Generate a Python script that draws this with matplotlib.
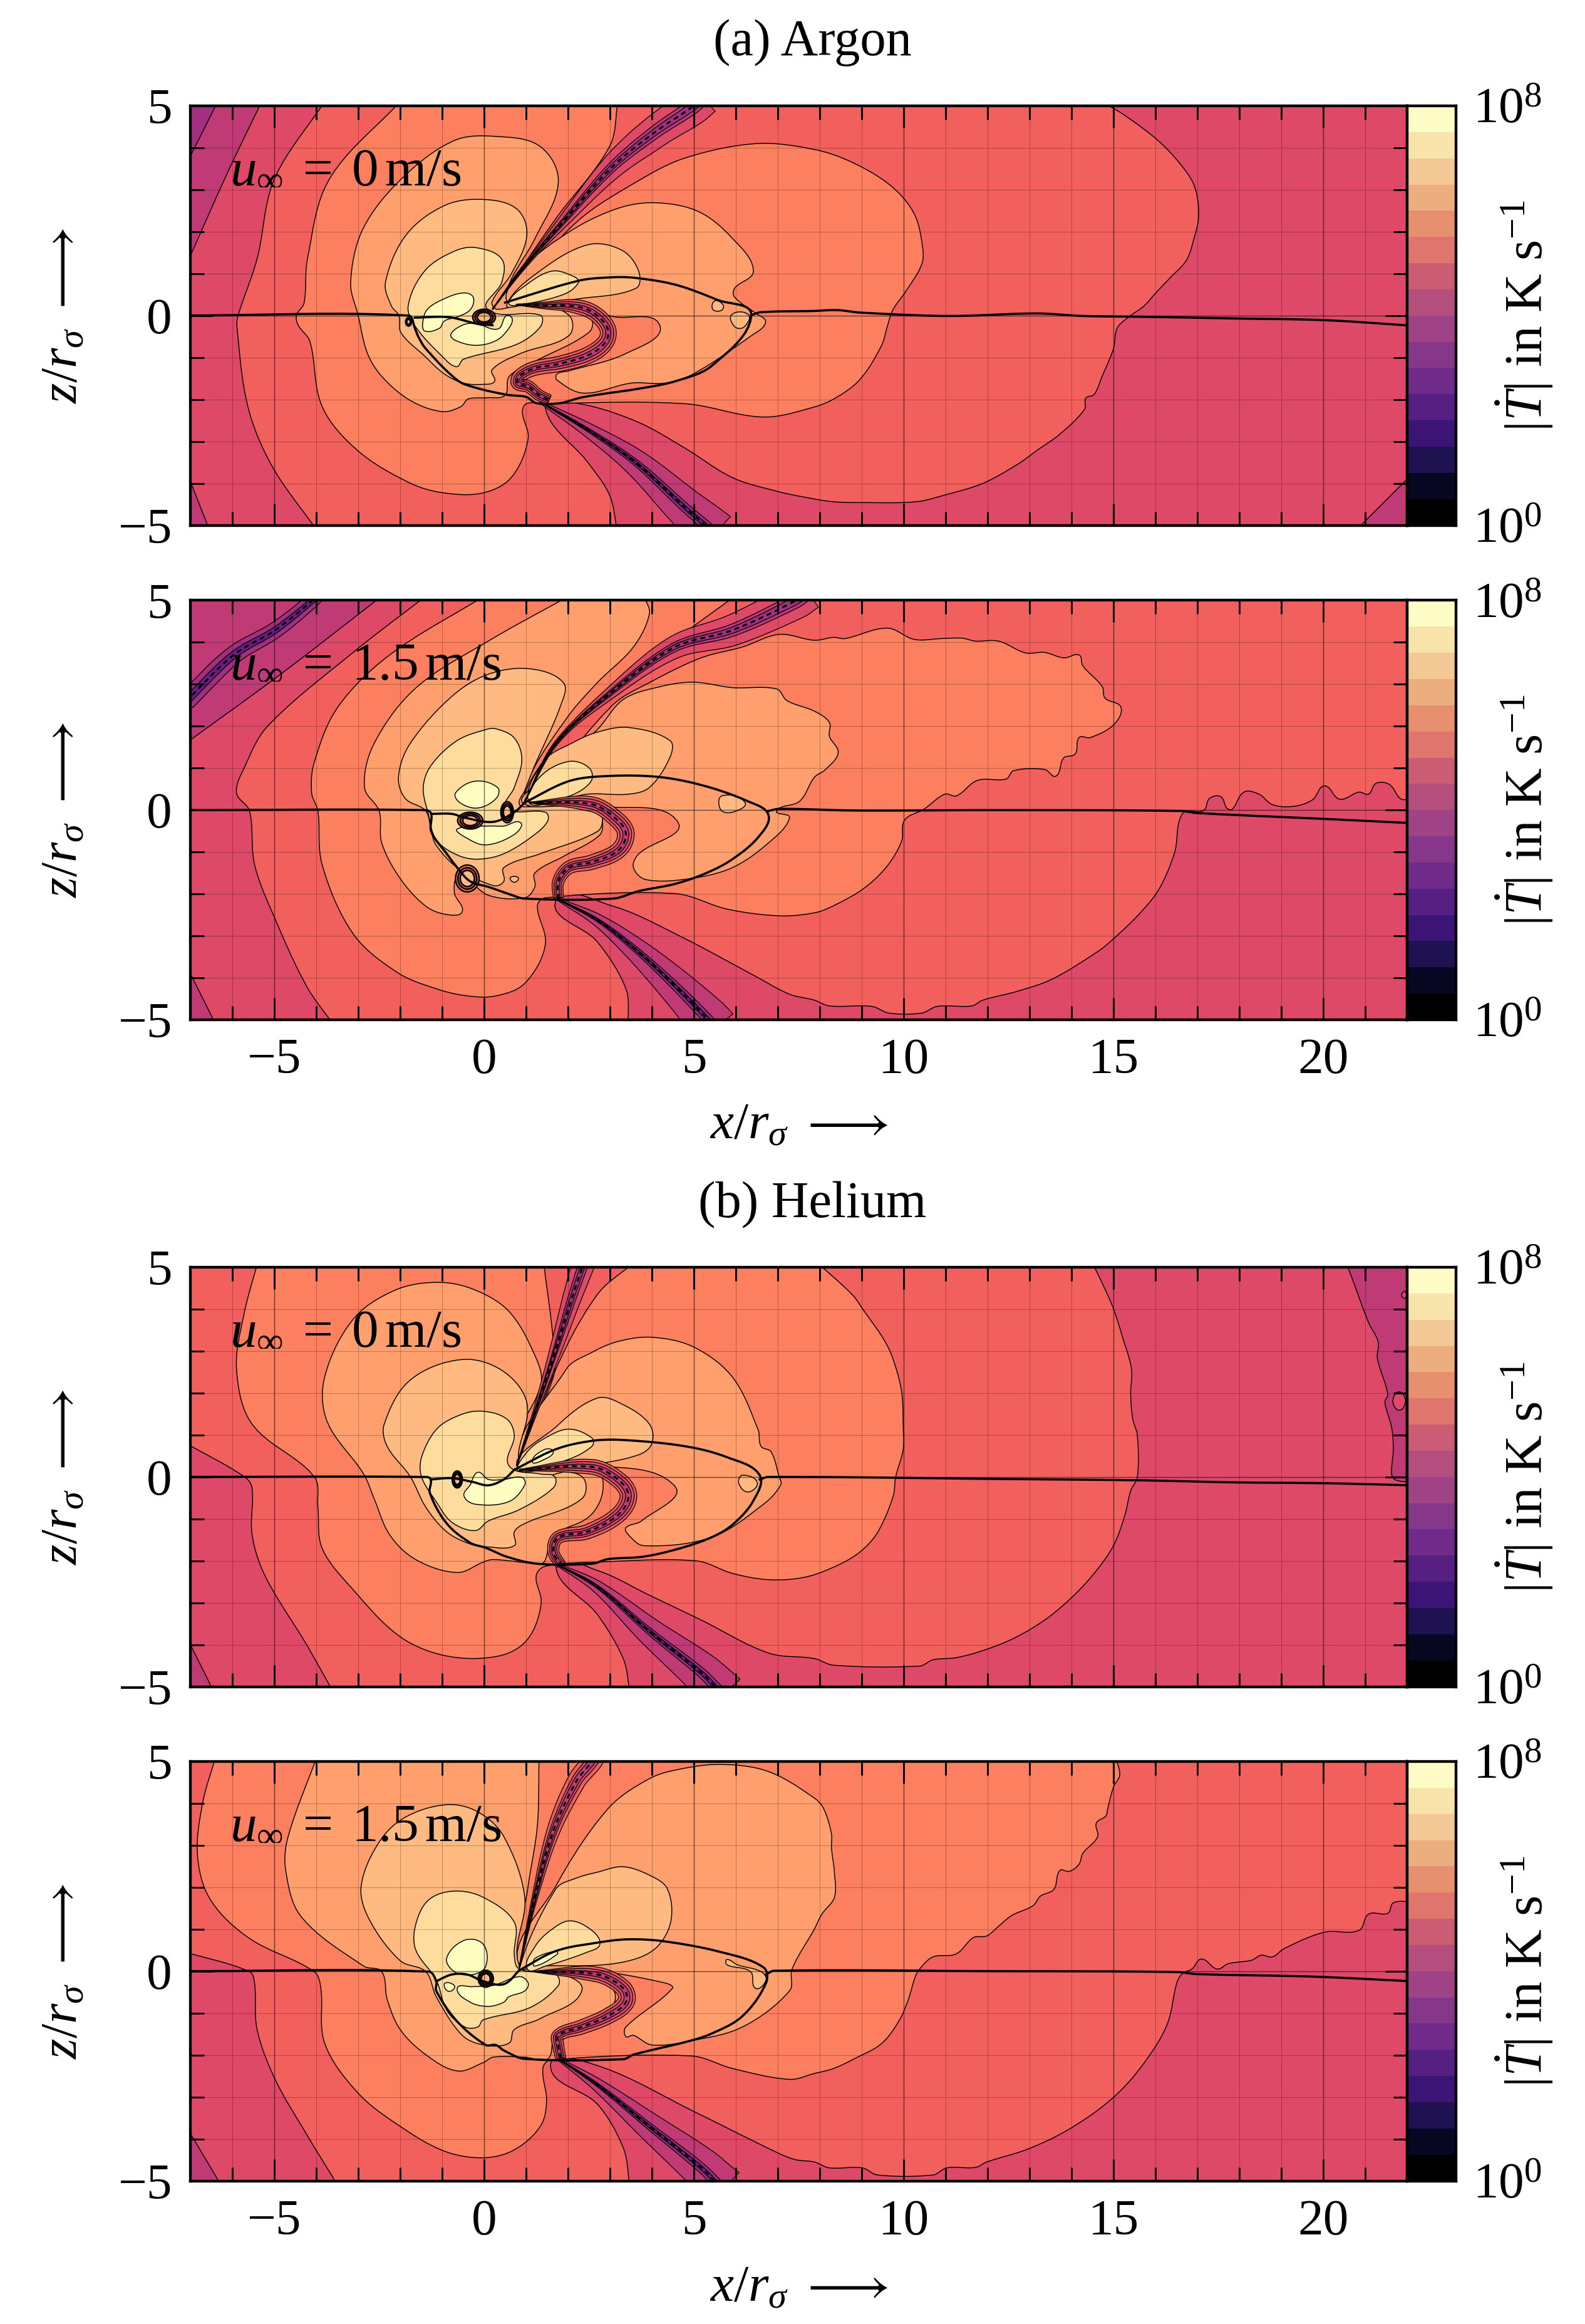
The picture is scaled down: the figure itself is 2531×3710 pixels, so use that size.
import numpy as np
import matplotlib
matplotlib.use('Agg')
import matplotlib.pyplot as plt
from matplotlib.patches import Ellipse
from matplotlib.ticker import MultipleLocator

plt.rcParams['font.family'] = ['Liberation Serif', 'DejaVu Serif']
plt.rcParams['mathtext.fontset'] = 'custom'
plt.rcParams['mathtext.rm'] = 'Liberation Serif'
plt.rcParams['mathtext.it'] = 'Liberation Serif:italic'
plt.rcParams['mathtext.fallback'] = 'stix'

# level index -> colour of the filled band, 0 darkest, 15 lightest
level_colors = ['#000004', '#0B0924', '#1D1147', '#36106B', '#51127C', '#6A1C81', '#85267F', '#A3307E',
                '#C03A76', '#DE4968', '#F1605D', '#FC8060', '#FE9F6D', '#FEBA80', '#FDDC9E', '#FCFDBF']
cbar_colors = ['#000000', '#070722', '#1E1250', '#3B1476', '#552082', '#6F2A8A', '#87378A', '#A04286',
               '#B44E7E', '#CC5C73', '#DF756C', '#E79070', '#EDAE7F', '#F3C894', '#F8E3AA', '#FDFBC6']
cbar_exponents = np.linspace(0, 8, 17)

x_limits = (-7, 22)
z_limits = (-5, 5)
panel_speed = ['0', '1.5', '0', '1.5']

# contour regions: (level, [(x, z), ...]) in x/r_sigma, z/r_sigma
ar0_regions = [
    (8, [(-5.3, 5.1), (-6.09, 3.46), (-7.1, 1.2), (-7.1, 5.1)]),
    (7, [(-6.35, 5.1), (-7.1, 3.6), (-7.1, 5.1)]),
    (8, [(-7.1, -3.7), (-6.55, -5.1), (-7.1, -5.1)]),
    (8, [(20.8, -5.1), (22.1, -3.8), (22.1, -5.1)]),
    (10, [(-3.8, 5.1), (-5.0, 3.25), (-5.41, 1.35), (-5.86, 0.01), (-5.89, -0.27), (-5.63, -2.17), (-5.06, -3.58),
          (-4.0, -5.1), (3.17, -5.1), (2.99, -4.28), (2.48, -3.51), (1.45, -2.17), (2.25, -2.1), (3.62, -2.52),
          (4.77, -3.15), (5.91, -3.86), (6.94, -4.18), (7.74, -4.35), (8.33, -4.44), (9.06, -4.46), (10.29, -4.44),
          (10.98, -4.28), (11.89, -4.0), (12.71, -3.55), (13.17, -3.22), (13.72, -2.83), (14.31, -2.24), (14.34, -1.97),
          (14.54, -1.88), (14.73, -1.45), (15, -0.79), (15.09, -0.3), (15.37, -0.03), (15.73, 0.23), (16, 0.53),
          (16.37, 0.92), (16.74, 1.32), (16.92, 1.84), (17.03, 2.37), (16.95, 3.03), (16.69, 3.49), (16.1, 4.14),
          (15.23, 4.8), (14.7, 5.1)]),
    (11, [(-2, 5.1), (-3.69, 3.25), (-4.21, 1.35), (-4.29, 0.3), (-4.47, 0.01), (-4.43, -0.23), (-4.15, -0.62),
          (-3.86, -2.17), (-3.0, -3.23), (-1.75, -4.0), (-0.95, -4.23), (-0.03, -4.23), (0.65, -3.86), (1.05, -2.94),
          (0.94, -2.17), (1.45, -2.1), (4.77, -2.1), (6.65, -2.42), (7.87, -2.18), (8.42, -1.94), (8.97, -1.51),
          (9.47, -0.72), (9.61, -0.26), (9.74, 0.13), (10.06, 0.59), (10.43, 1.22), (10.45, 1.64), (10.25, 2.43),
          (9.7, 3.09), (8.78, 3.65), (7.87, 3.96), (6.48, 4.1), (4.77, 3.75), (3.62, 3.18), (2.25, 2.27), (1.0, 0.9),
          (0.55, 0.35), (0.42, 0.37), (1.68, 2.27), (2.99, 4.03), (3.19, 5.1)]),
    (12, [(0.31, 4.27), (-0.72, 4.17), (-1.98, 3.25), (-2.89, 2.06), (-3.18, 0.79), (-3.0, 0), (-2.78, -0.9),
          (-2.43, -1.46), (-1.75, -2.03), (-1.0, -2.29), (-0.55, -2.17), (-0.38, -1.99), (0.08, -1.96), (0.5, -1.9),
          (0.6, -1.45), (1.2, -1.1), (2.5, -0.4), (2.54, -0.05), (1.9, 0.2), (0.8, 0.3), (0.54, 0.58), (1.22, 1.85),
          (1.77, 3.18), (1.34, 4.03)]),
    (12, [(0.6, 0.3), (0.88, 1.07), (2.02, 1.99), (3.17, 2.55), (4.08, 2.69), (5.11, 2.48), (5.91, 1.85), (6.42, 1.07),
          (5.97, 0.65), (5.97, 0.44), (6.48, 0.05), (6.71, -0.16), (6.37, -0.48), (4.99, -1.39), (4.31, -1.61),
          (3.51, -1.61), (2.37, -1.85), (1.74, -1.54), (1.74, -1.39), (2.02, -1.32), (3.39, -0.9), (4.19, -0.23),
          (3.05, -0.02), (2.3, 0.25)]),
    (13, [(-0.06, 2.77), (0.77, 2.55), (1.02, 1.92), (0.65, 1.0), (0.19, 0.33), (0.31, 0.15), (1.11, 0.3), (2.02, 0.01),
          (2.02, -0.48), (0.88, -0.9), (0.19, -1.29), (0.25, -1.57), (-0.03, -1.64), (-0.49, -1.61), (-0.95, -1.39),
          (-1.41, -0.97), (-1.98, -0.41), (-2.03, 0), (-2.21, 0.23), (-2.35, 0.79), (-1.86, 1.92), (-0.95, 2.62)]),
    (13, [(2.48, 1.69), (3.28, 1.56), (3.68, 1.07), (3.62, 0.65), (2.25, 0.4), (0.99, 0.26), (0.54, 0.26), (1.34, 1.07)]),
    (13, [(5.5, 0.35), (5.7, 0.25), (5.65, 0.12), (5.45, 0.15)]),
    (13, [(5.9, 0.02), (6.3, 0.02), (6.2, -0.27), (5.98, -0.27)]),
    (14, [(-0.2, 1.62), (0.42, 1.35), (0.42, 0.79), (0.08, 0.15), (1.34, 0.01), (1.34, -0.27), (0.77, -0.69),
          (-0.49, -1.04), (-0.66, -1.22), (-1.0, -0.97), (-1.63, -0.27), (-1.81, 0.23), (-1.41, 1.07), (-0.72, 1.53)]),
    (14, [(1.62, 1.06), (2.14, 0.93), (2.25, 0.79), (1.91, 0.51), (0.88, 0.26), (0.59, 0.3), (0.99, 0.72)]),
    (15, [(-0.49, 0.54), (-0.26, 0.44), (-0.32, 0.15), (-0.61, -0.02), (-0.95, -0.13), (-1.06, -0.3), (-1.41, -0.37),
          (-1.46, -0.16), (-1.35, 0.15), (-0.95, 0.4)]),
    (15, [(-0.79, -0.44), (-0.49, -0.22), (-0.19, -0.19), (0.33, -0.32), (0.53, 0.0), (0.67, -0.07), (0.6, -0.29),
          (0.3, -0.59), (-0.19, -0.71), (-0.69, -0.59)]),
]
ar0_jet_up = [(0.2, 0.15), (0.88, 1.07), (1.91, 2.27), (3.05, 3.54), (4.08, 4.38), (4.94, 4.96), (5.2, 5.2)]
ar0_jet_down = [(1.34, -2.06), (2.48, -2.73), (3.62, -3.51), (4.77, -4.56), (5.28, -5.0), (5.5, -5.2)]
ar0_jet_s = [(0.77, 0.26), (1.45, 0.24), (2.1, 0.23), (2.59, 0.08), (2.94, -0.3), (2.89, -0.64), (2.49, -0.94), (1.85, -1.14),
             (1.2, -1.26), (0.85, -1.44), (0.8, -1.61), (1.05, -1.69), (1.3, -1.89), (1.55, -2.01)]
ar0_jet_extra = []
ar0_rings = [(0.0, -0.04, 0.27, 0.19), (-1.8, -0.15, 0.07, 0.1)]
ar0_fronts = [
    [(-7.1, 0), (-1.8, 0), (-1.65, -0.3), (-1.58, -0.48), (-1.39, -0.79), (-0.64, -1.54), (-0.24, -1.71), (0.55, -1.89),
     (1.0, -1.94), (1.25, -2.09), (1.8, -2.09), (2.29, -1.96), (2.89, -1.86), (3.59, -1.76), (4.58, -1.56), (5.45, -1.18),
     (6.37, 0.01), (5.57, 0.37), (4.58, 0.73), (3.59, 0.9), (3, 0.91), (2.25, 0.83), (0.5, 0.31)],
    [(-1.65, -0.05), (-0.84, -0.04), (-0.15, -0.2), (0.2, -0.23)],
    [(6.37, 0.01), (6.6, 0.08), (7.87, 0.11), (8.42, 0.13), (8.97, 0.07), (11.07, -0.01), (13.17, 0.05), (14.27, -0.01),
     (15.73, -0.03), (17.92, -0.07), (20.03, -0.11), (22.1, -0.24)],
]

ar1_regions = [
    (8, [(-7.1, 1.6), (-4.85, 3.24), (-2.44, 5.1), (-7.1, 5.1)]),
    (8, [(-7.1, -3.7), (-6.4, -5.1), (-7.1, -5.1)]),
    (10, [(-1.39, 5.1), (-3.12, 3.76), (-5.16, 2.0), (-5.72, 1.0), (-5.9, 0.41), (-5.59, -0.02), (-5.47, -1.3),
          (-4.97, -2.62), (-4.23, -4.2), (-3.6, -5.1), (3.44, -5.1), (3.38, -4.26), (2.7, -3.14), (1.71, -2.16),
          (3.07, -2.29), (4.68, -3.01), (6.41, -3.93), (7.28, -4.39), (7.87, -4.53), (8.23, -4.67), (9.24, -4.68),
          (9.65, -4.84), (10.43, -4.84), (10.8, -4.68), (11.62, -4.67), (11.89, -4.53), (12.71, -4.32), (13.54, -4.03),
          (14.63, -3.37), (15, -3.07), (15.64, -2.45), (16.1, -1.86), (16.46, -1.0), (16.65, -0.08), (17.15, -0.01),
          (17.29, 0.28), (17.56, 0.32), (17.7, 0.05), (17.83, 0.02), (18.11, 0.43), (18.47, 0.38), (18.79, 0.13),
          (19.3, 0.09), (19.75, 0.25), (20.03, 0.58), (20.39, 0.26), (20.85, 0.43), (21.08, 0.38), (21.26, 0.64),
          (21.58, 0.61), (21.86, 0.26), (22.1, 0.3), (22.1, 5.1)]),
    (11, [(0, 5.1), (-2.25, 3.7), (-3.49, 2.45), (-4.05, 1.13), (-4.11, 0.41), (-3.96, -0.02), (-3.86, -1.3), (-3.12, -2.95),
          (-2.07, -3.87), (-1.14, -4.26), (-0.4, -4.43), (0.28, -4.43), (0.97, -4.13), (1.46, -3.21), (1.27, -2.29),
          (1.46, -2.09), (4.55, -1.99), (5.79, -2.36), (7.03, -2.52), (7.87, -2.45), (8.33, -2.28), (9.06, -1.86),
          (9.61, -1.33), (9.95, -0.74), (10.02, -0.24), (10.48, 0.02), (10.98, 0.38), (11.26, 0.34), (11.76, 0.71),
          (12.44, 0.74), (12.62, 0.94), (13.36, 0.97), (13.63, 0.81), (13.81, 1.24), (14.09, 1.34), (14.18, 1.73),
          (14.45, 1.73), (15, 2.03), (15.18, 2.45), (14.8, 2.67), (14.73, 2.95), (14.27, 3.44), (14.18, 3.7), (13.82, 3.63),
          (13.36, 3.76), (12.9, 3.75), (12.26, 4.03), (11.71, 4.03), (11.39, 4.1), (10.89, 4.09), (10.25, 4.07), (9.61, 4.34),
          (8.6, 4.09), (8.33, 4.12), (7.87, 4.05), (7.03, 4.19), (6.16, 3.89), (5.17, 3.63), (3.94, 3.04), (3.07, 2.51),
          (0.97, 0.14), (1.09, 0.67), (1.96, 1.86), (3.07, 2.97), (4.31, 3.89), (5.98, 5.1)]),
    (12, [(2.02, 5.1), (0.1, 4.03), (-1.63, 2.91), (-2.62, 1.59), (-2.85, 0.54), (-2.5, -0.02), (-2.44, -0.78), (-2, -1.63),
          (-1.39, -2.29), (-0.89, -2.49), (-0.52, -2.42), (-0.71, -1.96), (-0.58, -1.57), (0.1, -2.03), (0.97, -2.09),
          (1.21, -1.83), (1.21, -1.5), (1.9, -1.1), (2.75, -0.6), (2.82, -0.25), (2.7, 0.08), (1.09, 0.08), (1.03, 0.67),
          (1.96, 2.18), (2.7, 3.04), (3.56, 3.89), (3.94, 4.68), (3.81, 5.1)]),
    (12, [(0.95, 0.15), (1.46, 0.8), (2.7, 1.92), (3.32, 2.64), (4.18, 2.94), (4.99, 3.05), (5.92, 2.92), (6.97, 2.89),
          (7.22, 2.61), (7.87, 2.36), (8.23, 2.09), (8.23, 1.76), (8.44, 1.37), (8.14, 0.97), (7.87, 0.78), (7.52, 0.21),
          (6.97, -0.02), (7.28, -0.18), (6.78, -0.78), (5.92, -1.37), (4.93, -1.63), (3.87, -1.66), (3.56, -1.37),
          (3.69, -1.04), (4.62, -0.28), (2.95, 0.08)]),
    (13, [(1.09, 3.37), (1.89, 3.04), (1.83, 2.51), (1.21, 1.07), (0.97, 0.47), (0.84, 0.14), (1.09, 0.08), (2.64, 0.08),
          (2.82, -0.18), (2.7, -0.51), (1.34, -1.04), (0.47, -1.37), (0.47, -1.7), (0.22, -1.8), (-0.64, -1.37),
          (-1.14, -0.84), (-1.26, -0.51), (-1.39, -0.02), (-1.88, 0.28), (-2.04, 0.8), (-1.76, 1.59), (-0.77, 2.71), (0.1, 3.24)]),
    (13, [(3.44, 1.97), (4.43, 1.66), (4.43, 1.26), (3.94, 0.54), (3.44, 0.38), (2.45, 0.38), (1.71, 0.21), (1.06, 0.21),
          (1.46, 1.2), (2.08, 1.59), (2.7, 1.86)]),
    (13, [(5.67, 0.34), (6.22, 0.18), (5.92, -0.05), (5.64, 0.01)]),
    (13, [(0.72, -1.58), (0.82, -1.63), (0.72, -1.72), (0.62, -1.63)]),
    (14, [(0.28, 1.94), (0.72, 1.72), (0.9, 1.2), (0.72, 0.54), (0.53, 0.05), (1.46, -0.05), (1.52, -0.25), (1.21, -0.58),
          (0.47, -1.04), (-0.15, -1.17), (-0.64, -1.07), (-1.14, -0.71), (-1.32, -0.12), (-1.45, 0.54), (-1.26, 1.07),
          (-0.64, 1.66), (0.04, 1.92)]),
    (14, [(2.02, 1.16), (2.51, 1.0), (2.54, 0.67), (1.96, 0.31), (1.09, 0.21), (1.34, 0.8)]),
    (15, [(-0.21, 0.69), (0.32, 0.54), (0.29, 0.28), (-0.15, 0.05), (-0.58, 0.18), (-0.68, 0.41)]),
    (15, [(0.87, -0.3), (0.72, -0.58), (0.04, -0.83), (-0.46, -0.64), (-0.64, -0.45), (0.1, -0.38), (0.47, -0.38)]),
]
ar1_jet_up = [(0.97, 0.21), (1.71, 1.59), (3.07, 2.84), (4.55, 3.89), (5.92, 4.29), (7.4, 4.98), (7.7, 5.2)]
ar1_jet_down = [(1.77, -2.13), (2.7, -2.62), (3.56, -3.28), (4.43, -4.07), (5.3, -4.95), (5.5, -5.2)]
ar1_jet_s = [(1.09, 0.18), (2.57, 0.14), (3.19, -0.25), (3.38, -0.58), (3.19, -0.97), (2.57, -1.24), (2.02, -1.37),
             (1.77, -1.7), (1.77, -2.09)]
ar1_jet_extra = [(-7.1, 2.6), (-5.97, 3.7), (-4.98, 4.29), (-4.11, 4.98), (-3.9, 5.2)]
ar1_rings = [(-0.33, -0.25, 0.3, 0.2), (0.55, -0.05, 0.15, 0.25), (-0.4, -1.63, 0.28, 0.32)]
ar1_fronts = [
    [(-7.1, 0), (-1.39, 0), (-1.26, -0.09), (-1.26, -0.51), (-0.89, -1.04), (-0.64, -1.37), (-0.33, -1.7), (0.1, -1.83),
     (0.59, -2.0), (0.97, -2.11), (3.07, -2.11), (3.69, -1.93), (4.55, -1.76), (5.3, -1.5), (5.92, -1.17), (6.54, -0.64),
     (6.78, -0.12), (6.29, 0.21), (5.17, 0.6), (4.06, 0.8), (2.7, 0.8), (1.96, 0.67), (0.97, 0.18)],
    [(-1.26, -0.09), (-0.77, -0.09), (-0.46, -0.18), (0.22, -0.28), (0.72, -0.05), (0.97, 0.18)],
    [(6.78, -0.02), (7.03, 0.03), (8.89, -0.01), (12.2, 0), (16.6, -0.02), (17.0, -0.07), (20.03, -0.21), (22.1, -0.31)],
]

he0_regions = [
    (8, [(-7.1, -3.8), (-6.45, -5.1), (-7.1, -5.1)]),
    (8, [(20.55, 5.1), (20.76, 4.54), (21.08, 3.68), (21.31, 3.22), (21.29, 2.83), (21.54, 1.97), (21.47, 1.78), (21.63, 1.18),
         (21.67, 0.66), (21.63, 0.07), (21.72, -0.07), (22.1, -0.13), (22.1, 5.1)]),
    (9, [(21.81, 2.03), (21.96, 1.81), (21.81, 1.59), (21.66, 1.81)]),
    (9, [(21.93, 4.42), (21.99, 4.34), (21.93, 4.26), (21.87, 4.34)]),
    (10, [(-7.1, 0.8), (-5.72, 0.01), (-5.53, -0.26), (-5.53, -1.37), (-5.22, -2.36), (-4.23, -4.0), (-3.61, -5.1),
          (3.47, -5.1), (3.32, -4.34), (2.7, -3.28), (1.71, -2.1), (2.7, -2.23), (3.94, -2.82), (5.17, -3.41), (6.78, -4.2),
          (7.87, -4.33), (8.33, -4.49), (10.38, -4.51), (10.7, -4.36), (11.25, -4.31), (11.89, -4.14), (12.62, -3.85),
          (13.35, -3.42), (13.99, -2.89), (14.54, -2.3), (15, -1.64), (15.27, -0.92), (15.41, -0.33), (15.57, 0), (15.57, 0.99),
          (15.46, 1.38), (15.41, 1.97), (15.43, 2.57), (15.23, 3.29), (15, 4.01), (14.77, 4.54), (14.5, 5.1), (-7.1, 5.1)]),
    (11, [(-5.4, 5.1), (-5.72, 3.89), (-5.9, 2.57), (-5.53, 1.26), (-4.05, 0.01), (-3.96, -0.72), (-3.86, -1.7), (-3.12, -2.69),
          (-2.0, -3.81), (-0.89, -4.27), (0.35, -4.27), (1.03, -3.88), (1.36, -3.02), (1.24, -2.36), (1.46, -2.13), (2.7, -2.03),
          (5.05, -2.0), (5.92, -2.3), (6.78, -2.45), (7.65, -2.39), (8.42, -2.11), (8.97, -1.78), (9.38, -1.32), (9.75, -0.46),
          (9.81, 0), (9.99, 0.66), (9.99, 1.18), (9.95, 2.04), (9.74, 2.83), (9.52, 3.29), (9.06, 3.95), (8.78, 4.34), (7.95, 5.1),
          (3.56, 5.1), (2.7, 4.35), (1.71, 2.57), (0.84, 0.2), (0.72, 0.2), (1.65, 2.38), (1.65, 3.23), (1.42, 5.1)]),
    (12, [(-1.14, 4.64), (-0.27, 4.48), (0.59, 3.95), (1.21, 2.9), (1.36, 2.24), (0.72, 0.2), (2.7, 0.1), (2.82, -0.39), (2.5, -0.95),
          (1.65, -1.41), (1.45, -2.0), (1.34, -2.07), (0.22, -1.97), (-0.02, -2.03), (-0.64, -2.28), (-1.63, -1.97), (-2.25, -1.38),
          (-2.62, -0.52), (-2.87, 0.07), (-3.74, 1.32), (-3.8, 2.38), (-3.12, 3.76), (-2.13, 4.45)]),
    (12, [(4.0, 3.33), (4.99, 3.1), (5.92, 2.38), (6.53, 1.13), (6.6, 0.73), (6.84, 0.6), (7.03, 0.01), (7.07, -0.19), (6.66, -0.65),
          (5.42, -1.44), (3.81, -1.64), (3.44, -1.38), (3.38, -1.21), (3.75, -1.05), (4.55, -0.22), (2.57, 0.27), (0.84, 0.2),
          (1.96, 2.57), (2.57, 2.97), (3.19, 3.23)]),
    (13, [(-0.52, 2.8), (0.47, 2.51), (1.03, 1.72), (0.84, 0.27), (1.46, 0.14), (2.33, 0.01), (2.33, -0.52), (0.97, -1.11),
          (0.72, -1.31), (0.72, -1.64), (0.1, -1.67), (-0.33, -1.6), (-0.89, -1.31), (-1.39, -0.72), (-1.76, 0.01), (-2.31, 0.73),
          (-2.38, 1.26), (-1.76, 2.31)]),
    (13, [(2.7, 1.88), (3.32, 1.72), (3.94, 1.26), (4.0, 0.8), (3.69, 0.53), (2.57, 0.3), (0.84, 0.17), (1.71, 1.19)]),
    (13, [(6.16, 0.04), (6.51, -0.13), (6.29, -0.36), (6.07, -0.15)]),
    (14, [(-0.09, 1.57), (0.53, 1.39), (0.72, 0.99), (0.59, 0.27), (1.34, 0.07), (1.68, 0.01), (1.65, -0.26), (0.84, -0.78),
          (0.1, -1.05), (-0.21, -1.28), (-0.77, -1.08), (-1.14, -0.59), (-1.49, 0), (-1.49, 0.47), (-1.14, 1.13), (-0.64, 1.45)]),
    (14, [(2.02, 1.14), (2.57, 0.93), (2.57, 0.73), (1.96, 0.4), (0.84, 0.14), (1.03, 0.6), (1.46, 0.93)]),
    (15, [(0.9, -0.01), (0.97, -0.19), (0.59, -0.59), (-0.21, -0.65), (-0.48, -0.45), (-0.33, -0.19), (-0.15, 0.11), (0.1, -0.06),
          (0.47, -0.06)]),
    (15, [(1.46, 0.66), (1.65, 0.6), (1.46, 0.43), (1.15, 0.37)]),
]
he0_jet_up = [(0.78, 0.27), (1.34, 1.91), (1.77, 3.23), (2.08, 4.22), (2.33, 4.97), (2.4, 5.2)]
he0_jet_down = [(1.77, -2.1), (2.7, -2.62), (3.94, -3.68), (5.17, -4.66), (5.54, -5.03), (5.7, -5.2)]
he0_jet_s = [(0.84, 0.17), (2.57, 0.24), (3.19, -0.06), (3.44, -0.45), (3.19, -0.91), (2.45, -1.31), (1.77, -1.44),
             (1.65, -1.77), (1.83, -2.1)]
he0_jet_extra = []
he0_rings = [(-0.64, -0.06, 0.12, 0.2)]
he0_fronts = [
    [(-7.1, 0), (-1.39, 0), (-1.27, -0.06), (-1.29, -0.39), (-0.89, -1.11), (-0.33, -1.57), (0.04, -1.69), (0.53, -1.9),
     (1.27, -2.07), (2.57, -2.07), (2.95, -1.96), (3.81, -1.9), (4.68, -1.7), (5.42, -1.44), (5.92, -1.14), (6.41, -0.58),
     (6.57, 0.04), (5.79, 0.47), (4.8, 0.73), (3.32, 0.88), (2.57, 0.86), (1.71, 0.66), (0.72, 0.17)],
    [(-1.27, -0.06), (-0.77, -0.03), (-0.27, -0.12), (0.1, -0.2), (0.47, -0.06), (0.72, 0.17)],
    [(6.57, -0.06), (6.78, 0), (12.44, -0.05), (15.55, -0.08), (17.93, -0.13), (20.03, -0.15), (22.1, -0.2)],
]

he1_regions = [
    (8, [(-7.1, -3.7), (-6.27, -5.1), (-7.1, -5.1)]),
    (10, [(-7.1, 0.45), (-5.59, -0.01), (-5.47, -0.28), (-5.41, -1.39), (-4.98, -2.58), (-4.23, -3.89), (-3.49, -5.1),
          (3.47, -5.1), (3.32, -4.22), (2.7, -3.17), (1.58, -2.25), (2.7, -2.25), (5.05, -3.37), (6.91, -4.29), (7.4, -4.49),
          (7.87, -4.55), (8.23, -4.69), (9.01, -4.69), (9.38, -4.86), (10.7, -4.86), (11.03, -4.69), (11.71, -4.68), (11.98, -4.55),
          (12.99, -4.23), (13.99, -3.74), (15, -3.01), (15.73, -2.19), (16.28, -1.27), (16.51, -0.28), (16.65, -0.05), (16.87, 0.05),
          (17.1, 0.29), (17.47, 0.05), (17.74, 0.18), (18.29, 0.26), (18.52, 0.38), (18.79, 0.34), (19.07, 0.54), (20.03, 0.93),
          (20.85, 0.97), (21.08, 1.36), (21.54, 1.38), (21.67, 1.63), (22.1, 1.66), (22.1, 5.1), (-7.1, 5.1)]),
    (11, [(-6.4, 5.1), (-6.71, 4.0), (-6.83, 2.75), (-6.52, 1.7), (-5.59, 0.78), (-4.05, -0.01), (-3.89, -0.41), (-3.8, -1.72),
          (-3.0, -2.91), (-2.0, -3.7), (-0.95, -4.29), (-0.02, -4.45), (0.72, -4.26), (1.34, -3.7), (1.49, -3.11), (1.4, -2.32),
          (1.58, -2.12), (4.93, -2.02), (5.92, -2.32), (7.28, -2.58), (7.87, -2.44), (8.33, -2.32), (8.88, -2.06), (9.47, -1.73),
          (9.88, -1.2), (10.11, -0.68), (10.27, -0.15), (10.38, 0.05), (10.7, 0.34), (11.25, 0.41), (11.66, 0.8), (11.98, 0.84),
          (12.26, 1.07), (12.58, 1.33), (13.08, 1.56), (13.26, 1.79), (13.58, 1.95), (13.72, 2.4), (13.95, 2.38), (14.18, 2.55),
          (14.27, 2.81), (14.62, 3.2), (14.59, 3.53), (14.82, 3.7), (14.86, 3.86), (15, 4.39), (15.15, 4.68), (15.05, 5.1)]),
    (12, [(-3.99, 5.1), (-4.67, 3.21), (-4.73, 2.42), (-4.36, 1.3), (-2.87, 0.12), (-2.44, -0.01), (-2.31, -0.67), (-2, -1.39),
          (-1.39, -1.99), (-0.64, -2.38), (-0.02, -2.18), (0.22, -2.05), (0.97, -2.05), (1.52, -2.09), (1.71, -1.53), (2.82, -1.13),
          (3.13, -0.61), (2.82, -0.14), (2.33, 0.02), (0.84, 0.05), (1.03, 1.89), (1.27, 3.47), (1.31, 5.1)]),
    (12, [(5.67, 4.93), (6.78, 4.76), (7.87, 4.13), (8.1, 3.86), (8.28, 3.27), (8.28, 2.94), (8.35, 2.35), (8.35, 1.76), (8.05, 1.36),
          (7.87, 1.0), (7.34, 0.05), (7.28, -0.47), (6.16, -1.33), (4.93, -1.66), (4.0, -1.76), (3.56, -1.53), (3.38, -1.56),
          (3.38, -1.33), (4.49, -0.41), (4.31, -0.28), (2.57, 0.02), (0.84, 0.05), (1.71, 2.03), (2.95, 3.87), (3.94, 4.59), (4.68, 4.82)]),
    (13, [(-0.89, 3.97), (-0.15, 3.8), (0.47, 3.21), (0.97, 1.76), (0.84, 0.12), (1.71, -0.01), (2.33, -0.47), (1.34, -1.13),
          (0.72, -1.39), (0.59, -1.72), (0, -1.76), (-0.52, -1.53), (-1.14, -0.61), (-1.39, -0.01), (-2.0, 0.25), (-2.74, 1.24),
          (-2.93, 2.03), (-2.5, 3.08), (-1.88, 3.67)]),
    (13, [(3.32, 2.49), (4.0, 2.26), (4.37, 1.96), (4.46, 1.24), (4.18, 0.64), (3.69, 0.32), (2.82, 0.15), (1.21, 0.12), (0.84, 0.05),
          (1.71, 1.96), (2.2, 2.22), (2.7, 2.36)]),
    (13, [(5.79, 0.28), (6.04, 0.15), (6.6, -0.01), (6.72, -0.21), (6.47, -0.41), (6.35, -0.01), (5.79, 0.15)]),
    (14, [(-0.71, 1.91), (-0.02, 1.76), (0.72, 1.17), (0.72, 0.38), (0.84, 0.05), (1.71, -0.08), (1.77, -0.34), (1.09, -0.87),
          (-0.02, -1.16), (-0.15, -1.33), (-0.46, -1.33), (-0.89, -0.93), (-1.14, -0.21), (-1.63, 0.51), (-1.63, 1.11), (-1.32, 1.7)]),
    (14, [(2.05, 1.2), (2.57, 0.97), (2.76, 0.64), (2.45, 0.45), (1.46, 0.12), (1.03, 0.05), (1.21, 0.58), (1.58, 0.97)]),
    (15, [(-0.46, 0.74), (-0.02, 0.64), (0.04, 0.12), (-0.27, -0.08), (-0.71, -0.01), (-0.89, 0.32)]),
    (15, [(0.84, -0.13), (1.05, -0.28), (0.97, -0.47), (0.59, -0.61), (0.47, -0.74), (0.1, -0.84), (-0.33, -0.74), (-0.64, -0.41),
          (-0.27, -0.37), (0.22, -0.34)]),
    (15, [(-0.95, -0.31), (-0.82, -0.28), (-0.7, -0.38), (-0.85, -0.48)]),
    (15, [(1.21, 0.3), (1.71, 0.48), (1.75, 0.41), (1.21, 0.12)]),
]
he1_jet_up = [(0.84, 0.09), (1.21, 1.76), (1.65, 3.34), (2.2, 4.53), (2.57, 5.0), (2.7, 5.25)]
he1_jet_down = [(1.77, -2.09), (2.7, -2.71), (3.94, -3.7), (5.17, -4.68), (5.54, -5.05), (5.7, -5.2)]
he1_jet_s = [(1.21, -0.01), (2.7, -0.08), (3.32, -0.41), (3.38, -0.74), (2.95, -1.07), (2.33, -1.33), (1.77, -1.53),
             (1.77, -1.79), (1.83, -2.09)]
he1_jet_extra = []
he1_rings = [(0.04, -0.18, 0.18, 0.2)]
he1_fronts = [
    [(-7.1, 0), (-1.32, -0.01), (-1.14, -0.24), (-1.14, -0.47), (-0.64, -1.2), (0.04, -1.76), (0.28, -1.76), (0.47, -1.89),
     (0.97, -2.09), (3.32, -2.1), (3.56, -1.99), (4.8, -1.69), (5.42, -1.49), (6.16, -1.07), (6.72, -0.28), (6.66, 0.09),
     (5.67, 0.45), (4.31, 0.71), (3.44, 0.76), (2.7, 0.68), (1.71, 0.48), (0.84, 0.02)],
    [(-1.14, -0.24), (-0.77, -0.08), (-0.4, -0.08), (-0.02, -0.24), (0.47, -0.31), (0.84, 0.02)],
    [(6.72, -0.08), (6.91, 0.01), (12.2, 0), (16.5, -0.02), (17.0, -0.07), (19.75, -0.13), (22.1, -0.24)],
]

# half widths of the narrow jets at the fractions of their length in jet_frac
jet_frac = [0, 0.25, 0.5, 0.75, 1]
up_widths = {9: [0.005, 0.06, 0.2, 0.36, 0.45], 8: [0.003, 0.03, 0.08, 0.14, 0.18], 7: [0.002, 0.015, 0.04, 0.07, 0.1]}
he_up_widths = {9: [0.005, 0.05, 0.12, 0.2, 0.28], 8: [0.003, 0.025, 0.05, 0.09, 0.12], 7: [0.002, 0.012, 0.03, 0.045, 0.06]}
he1_up_widths = {10: [0.005, 0.05, 0.12, 0.2, 0.25], 9: [0.004, 0.03, 0.07, 0.11, 0.15], 8: [0.002, 0.015, 0.04, 0.06, 0.08]}
down_widths = {8: [0.03, 0.16, 0.3, 0.43, 0.55], 7: [0.01, 0.04, 0.07, 0.1, 0.12], 5: [0.005, 0.015, 0.03, 0.04, 0.05]}
s_widths = {10: [0.01, 0.17, 0.2, 0.17, 0.12], 9: [0.005, 0.11, 0.14, 0.1, 0.08], 8: [0.002, 0.05, 0.07, 0.05, 0.04]}
extra_widths = {7: [0.22, 0.22, 0.2, 0.18, 0.16], 5: [0.09, 0.09, 0.08, 0.07, 0.06]}
ring_levels = [(1.0, 11), (0.8, 9), (0.6, 13)]

panels = [
    (ar0_regions, ar0_jet_up, ar0_jet_down, ar0_jet_s, ar0_jet_extra, ar0_rings, ar0_fronts, up_widths),
    (ar1_regions, ar1_jet_up, ar1_jet_down, ar1_jet_s, ar1_jet_extra, ar1_rings, ar1_fronts, up_widths),
    (he0_regions, he0_jet_up, he0_jet_down, he0_jet_s, he0_jet_extra, he0_rings, he0_fronts, he_up_widths),
    (he1_regions, he1_jet_up, he1_jet_down, he1_jet_s, he1_jet_extra, he1_rings, he1_fronts, he1_up_widths),
]


def outside(p):
    return p[0] < x_limits[0] or p[0] > x_limits[1] or p[1] < z_limits[0] or p[1] > z_limits[1]


def smooth(points, closed):
    # curve through the read points, straight where a piece runs outside the frame
    p = np.array(points, dtype=float)
    n = len(p)
    if n < 3:
        return p
    out = []
    last = n if closed else n - 1
    for i in range(last):
        a = p[i]
        b = p[(i + 1) % n]
        before = p[(i - 1) % n] if closed or i > 0 else a
        after = p[(i + 2) % n] if closed or i + 2 < n else b
        chord = np.linalg.norm(b - a)
        ta = b - before
        tb = after - a
        ta = ta / max(np.linalg.norm(ta), 1e-9) * chord
        tb = tb / max(np.linalg.norm(tb), 1e-9) * chord
        if outside(a):
            ta = b - a
        if outside(b):
            tb = b - a
        for t in np.linspace(0, 1, 10, endpoint=False):
            h00 = 2 * t**3 - 3 * t**2 + 1
            h10 = t**3 - 2 * t**2 + t
            h01 = -2 * t**3 + 3 * t**2
            h11 = t**3 - t**2
            out.append(h00 * a + h10 * ta + h01 * b + h11 * tb)
    if not closed:
        out.append(p[-1])
    return np.array(out)


def draw_jet(ax, center, widths):
    line = smooth(center, False)
    seg = np.hypot(*np.diff(line, axis=0).T)
    s = np.r_[0, np.cumsum(seg)] / seg.sum()
    tang = np.gradient(line, axis=0)
    tang = tang / np.maximum(np.hypot(*tang.T), 1e-9)[:, None]
    normal = np.c_[-tang[:, 1], tang[:, 0]]
    for level in sorted(widths, reverse=True):
        w = np.interp(s, jet_frac, widths[level])[:, None]
        shape = np.r_[line + normal * w, (line - normal * w)[::-1]]
        ax.fill(shape[:, 0], shape[:, 1], facecolor=level_colors[level], edgecolor='k', lw=0.3, zorder=1.5)
    ax.plot(line[:, 0], line[:, 1], color='k', lw=0.75, dashes=(2.5, 2.0), zorder=1.6)


def draw_panel(ax, regions, jet_up, jet_down, jet_s, jet_extra, rings, fronts, up):
    ax.set_facecolor(level_colors[9])
    for level, points in regions:
        shape = smooth(points, True)
        ax.fill(shape[:, 0], shape[:, 1], facecolor=level_colors[level], edgecolor='k', lw=0.35, zorder=1)
    draw_jet(ax, jet_up, up)
    draw_jet(ax, jet_down, down_widths)
    draw_jet(ax, jet_s, s_widths)
    if jet_extra:
        draw_jet(ax, jet_extra, extra_widths)
    for x, z, rx, rz in rings:
        for scale, level in ring_levels:
            ax.add_patch(Ellipse((x, z), 2 * rx * scale, 2 * rz * scale, facecolor=level_colors[level],
                                 edgecolor='k', lw=0.6, zorder=1.7))
    for front in fronts:
        line = smooth(front, False)
        ax.plot(line[:, 0], line[:, 1], color='k', lw=0.85, zorder=1.8)
    ax.set_xlim(x_limits)
    ax.set_ylim(z_limits)
    ax.xaxis.set_major_locator(MultipleLocator(5))
    ax.xaxis.set_minor_locator(MultipleLocator(1))
    ax.yaxis.set_major_locator(MultipleLocator(5))
    ax.yaxis.set_minor_locator(MultipleLocator(1))
    ax.grid(which='major', color='k', alpha=0.55, lw=0.35)
    ax.grid(which='minor', color='k', alpha=0.25, lw=0.25)
    ax.set_axisbelow(False)
    ax.tick_params(which='major', direction='in', top=True, right=True, length=8.4, width=0.7, labelsize=19.5, pad=7)
    ax.tick_params(which='minor', direction='in', top=True, right=True, length=5.3, width=0.7)
    for spine in ax.spines.values():
        spine.set_linewidth(1.05)


W, H = 2531, 3710
fig = plt.figure(figsize=(W / 300, H / 300), dpi=300)
tops = [169, 958.5, 2023, 2812]
ax_left, ax_right, bar_right, ax_h = 304, 2247, 2325, 669.5

for i, (top, spec) in enumerate(zip(tops, panels)):
    ax = fig.add_axes([ax_left / W, 1 - (top + ax_h) / H, (ax_right - ax_left) / W, ax_h / H])
    draw_panel(ax, *spec)
    ax.text(-6.06, 3.5, r'$u_\infty\;=\;$' + panel_speed[i] + r'$\,$m/s', fontsize=20.5, va='center', ha='left', zorder=5)
    if i % 2 == 0:
        ax.tick_params(axis='x', which='both', labelbottom=False)
    fig.text(102 / W, 1 - (top + ax_h / 2) / H, r'$z/r_\sigma\ \longrightarrow$', rotation=90, fontsize=20,
             ha='center', va='center')

    cax = fig.add_axes([ax_right / W, 1 - (top + ax_h) / H, (bar_right - ax_right) / W, ax_h / H])
    for j, color in enumerate(cbar_colors):
        cax.fill_between([0, 1], 10.0 ** cbar_exponents[j], 10.0 ** cbar_exponents[j + 1], color=color, lw=0)
    cax.set_yscale('log')
    cax.set_xlim(0, 1)
    cax.set_ylim(1, 1e8)
    cax.set_xticks([])
    cax.yaxis.tick_right()
    cax.set_yticks([1, 1e8], [r'$\mathrm{10}^{0}$', r'$\mathrm{10}^{8}$'])
    cax.minorticks_off()
    cax.tick_params(length=0, labelsize=19.5, pad=6.5)
    for spine in cax.spines.values():
        spine.set_linewidth(1.05)
    fig.text(2434 / W, 1 - (top + ax_h / 2) / H, r'$|\dot{T}|$ in K s$^{-1}$', rotation=90, fontsize=20.5,
             ha='center', va='center')

fig.text(1297 / W, 1 - 68 / H, '(a) Argon', fontsize=19.8, ha='center', va='center')
fig.text(1297 / W, 1 - 1924 / H, '(b) Helium', fontsize=19.8, ha='center', va='center')
fig.text(1276 / W, 1 - 1797 / H, r'$x/r_\sigma\ \longrightarrow$', fontsize=20, ha='center', va='center')
fig.text(1276 / W, 1 - 3653 / H, r'$x/r_\sigma\ \longrightarrow$', fontsize=20, ha='center', va='center')

fig.savefig('out.png', dpi=300)
